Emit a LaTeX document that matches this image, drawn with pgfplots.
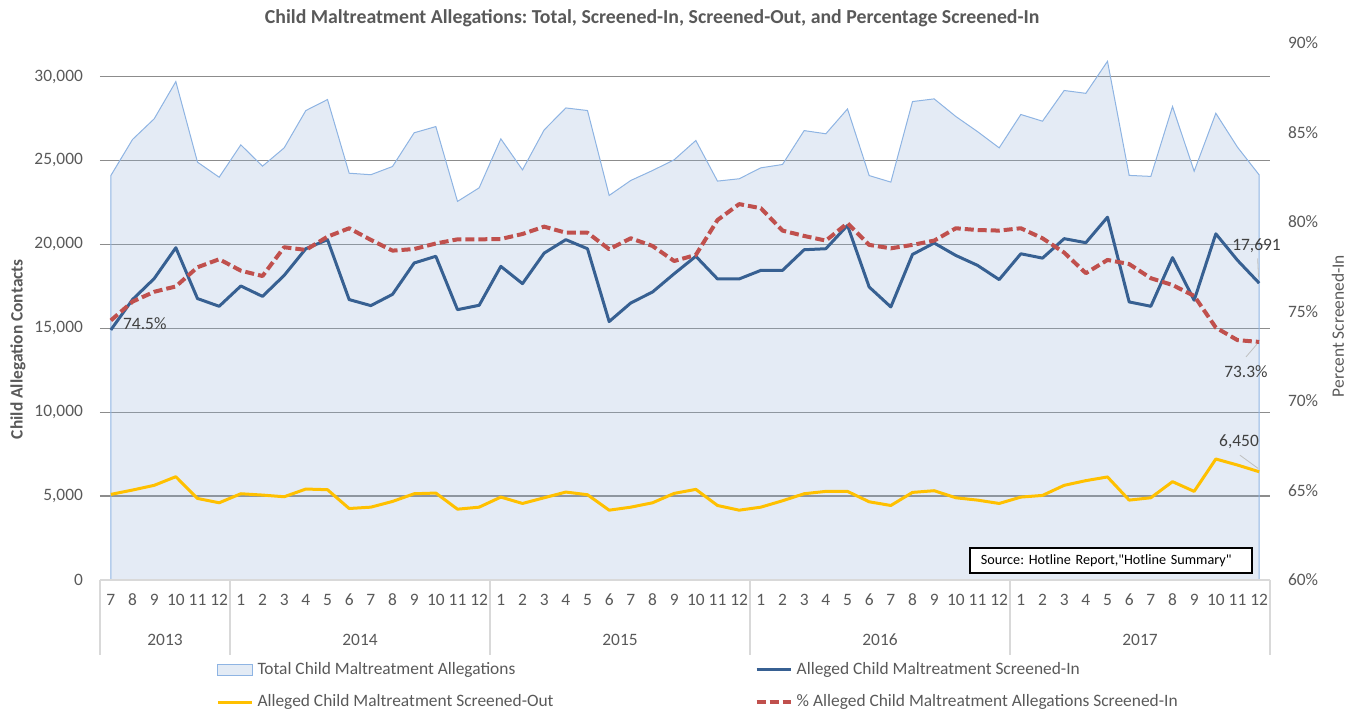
\documentclass[border=0pt]{standalone}
\usepackage{fontspec}
\setmainfont{Carlito}
\newfontfamily\srcfont{Carlito}
\usepackage{pgfplots}
\usepackage{pgfplotstable}
\pgfplotsset{compat=1.18}
\definecolor{tc}{HTML}{595959}
\definecolor{dl}{HTML}{404040}
\definecolor{areafill}{HTML}{95B3D7}
\definecolor{areaedge}{HTML}{8EB4E3}
\definecolor{inblue}{HTML}{376092}
\definecolor{outyel}{HTML}{FFC000}
\definecolor{pctred}{HTML}{C0504D}
\definecolor{gridc}{HTML}{8C8C8C}
\definecolor{sepc}{HTML}{D9D9D9}
\definecolor{leadc}{HTML}{BFBFBF}
\newcommand{\fs}{\fontsize{8.7}{10.4}\selectfont}

\pgfplotstableread{
i total in out pct
0 24100 14900 5100 74.5
1 26250 16710 5360 75.55
2 27480 17960 5640 76.1
3 29700 19800 6155 76.4
4 24900 16770 4860 77.47
5 24000 16310 4600 77.92
6 25930 17520 5140 77.28
7 24660 16900 5060 76.98
8 25750 18150 4960 78.59
9 27975 19740 5420 78.44
10 28630 20280 5380 79.18
11 24240 16710 4260 79.65
12 24150 16350 4340 79.0
13 24640 17020 4680 78.4
14 26650 18890 5140 78.49
15 27020 19290 5180 78.8
16 22560 16110 4220 79.03
17 23370 16370 4340 79.03
18 26290 18690 4940 79.05
19 24440 17660 4560 79.33
20 26820 19480 4900 79.74
21 28130 20280 5240 79.4
22 27975 19740 5080 79.4
23 22915 15400 4160 78.48
24 23810 16510 4340 79.09
25 24400 17160 4600 78.66
26 25040 18250 5160 77.82
27 26190 19290 5400 78.16
28 23770 17940 4440 80.11
29 23910 17940 4160 81.0
30 24560 18450 4340 80.77
31 24760 18450 4720 79.52
32 26780 19680 5140 79.22
33 26590 19740 5280 78.96
34 28070 21130 5280 79.93
35 24100 17460 4660 78.72
36 23710 16270 4440 78.53
37 28510 19400 5220 78.72
38 28670 20080 5320 78.96
39 27620 19340 4900 79.65
40 26720 18750 4760 79.55
41 25750 17900 4560 79.52
42 27740 19440 4940 79.65
43 27340 19180 5040 79.09
44 29170 20340 5640 78.29
45 29000 20100 5920 77.14
46 30910 21620 6140 77.88
47 24110 16570 4760 77.65
48 24050 16310 4900 76.86
49 28210 19210 5860 76.48
50 24360 16670 5280 75.87
51 27810 20630 7210 74.1
52 25790 19050 6850 73.4
53 24141 17691 6450 73.3
}\data

\begin{document}
\frenchspacing
\begin{tikzpicture}
\pgfplotsset{
  base/.style={
    width=585pt, height=268.5pt, scale only axis,
    at={(0,0)}, anchor=south west,
    xmin=-0.5, xmax=53.5,
    axis line style={draw=none},
    major tick length=0pt,
    tick label style={font=\fs, text=tc},
    /pgf/number format/assume math mode=true,
    clip=false,
  }
}
\begin{axis}[base,
  ymin=0, ymax=32000,
  ytick={5000,10000,...,30000},
  extra y ticks={0}, extra y tick style={grid=none},
  ymajorgrids, grid style={draw=gridc, line width=0.6pt},
  y tick label style={/pgf/number format/1000 sep={,}, xshift=-5pt},
  scaled y ticks=false,
  xtick={0,...,53},
  xticklabels={7,8,9,10,11,12,1,2,3,4,5,6,7,8,9,10,11,12,1,2,3,4,5,6,7,8,9,10,11,12,1,2,3,4,5,6,7,8,9,10,11,12,1,2,3,4,5,6,7,8,9,10,11,12},
  x tick label style={anchor=center, yshift=-10pt},
  extra x ticks={2.5,11.5,23.5,35.5,47.5},
  extra x tick labels={2013,2014,2015,2016,2017},
  extra x tick style={grid=none, x tick label style={yshift=-20pt}},
  title={Child Maltreatment Allegations: Total, Screened-In, Screened-Out, and Percentage Screened-In},
  title style={at={(axis description cs:0.472,1.047)}, anchor=center, yshift=-6pt, font=\fontsize{9.9}{12}\selectfont\bfseries, text=tc},
  ylabel={Child Allegation Contacts},
  ylabel style={at={(axis description cs:-0.0701,0.43)}, anchor=center, font=\fs\bfseries, text=tc},
]
\addplot[fill=areafill, fill opacity=0.26, draw=areaedge, line width=0.5pt] table[x=i,y=total]{\data} \closedcycle;
\addplot[inblue, line width=1.5pt, line join=round] table[x=i,y=in]{\data};
\addplot[outyel, line width=1.5pt, line join=round] table[x=i,y=out]{\data};
\draw[sepc, line width=0.6pt] (axis cs:-0.5,0) -- (axis cs:53.5,0);
\pgfplotsinvokeforeach{-0.5,5.5,17.5,29.5,41.5,53.5}{
  \draw[sepc, line width=0.6pt] (axis cs:#1,0) -- ++(0pt,-37.5pt);
}
\draw[leadc, line width=0.4pt] (axis cs:52.93,19170) -- (axis cs:52.97,18040);
\node[font=\fs, text=dl, inner sep=0pt] at (axis cs:52.88,19940) {17,691};
\draw[leadc, line width=0.4pt] (axis cs:52.11,7440) -- (axis cs:52.95,6650);
\node[font=\fs, text=dl, inner sep=0pt] at (axis cs:52.07,8214) {6,450};
\node[draw=black, line width=0.6pt, fill=white, font=\srcfont\fontsize{7.1}{8.5}\selectfont, text=black, text width=130pt, inner xsep=5.5pt, minimum height=12.5pt, align=left, inner ysep=1.5pt] at (axis cs:46.16,1160) {Source: Hotline Report,"Hotline Summary"};
\end{axis}
\begin{axis}[base,
  ymin=60, ymax=90,
  ytick={60,65,...,90},
  yticklabel pos=right,
  yticklabel={\pgfmathprintnumber{\tick}\%},
  y tick label style={anchor=west, xshift=5.5pt},
  xtick=\empty,
  ylabel={Percent Screened-In},
  ylabel style={at={(axis description cs:1.058,0.473)}, anchor=center, font=\fs, text=tc},
  legend columns=2,
  legend cell align=left,
  legend style={at={(axis description cs:0.094,0)}, anchor=north west, yshift=-37pt, draw=none, fill=none, font=\fs, text=tc, row sep=4.5pt, /tikz/every even column/.append style={column sep=98.5pt}},
]
\addlegendimage{area legend, fill=areafill!26, draw=areaedge}
\addlegendentry{Total Child Maltreatment Allegations}
\addlegendimage{inblue, line width=1.5pt}
\addlegendentry{Alleged Child Maltreatment Screened-In}
\addlegendimage{outyel, line width=1.5pt}
\addlegendentry{Alleged Child Maltreatment Screened-Out}
\addplot[pctred, line width=2pt, dash pattern=on 4.5pt off 2pt, line join=round] table[x=i,y=pct]{\data};
\addlegendentry{\% Alleged Child Maltreatment Allegations Screened-In}
\node[font=\fs, text=dl, anchor=west, inner sep=0pt] at (axis cs:0.55,74.3) {74.5\%};
\draw[leadc, line width=0.4pt] (axis cs:52.39,72.46) -- (axis cs:52.9,73.18);
\node[font=\fs, text=dl, inner sep=0pt] at (axis cs:52.39,71.62) {73.3\%};
\end{axis}
\pgfresetboundingbox
\path[use as bounding box] (-50pt,-65pt) rectangle (627.5pt,290pt);
\end{tikzpicture}
\end{document}
